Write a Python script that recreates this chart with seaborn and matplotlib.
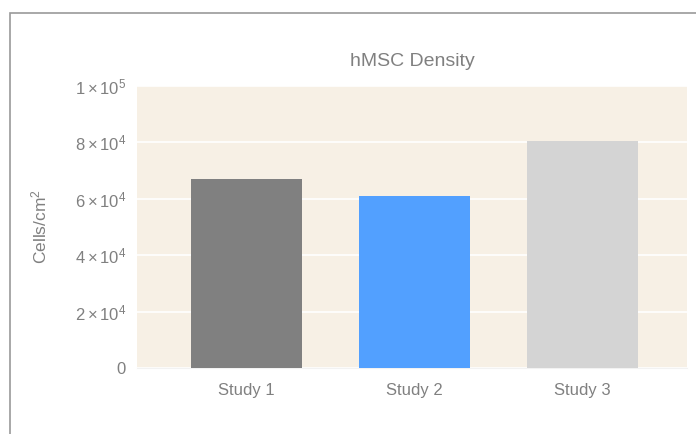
import seaborn as sns
import matplotlib.pyplot as plt
from matplotlib.patches import Rectangle
from matplotlib.ticker import FixedLocator

studies = ["Study 1", "Study 2", "Study 3"]
density = [67000, 61000, 80500]
bar_colors = ["#808080", "#52a0ff", "#d4d4d4"]
y_ticks = [0, 20000, 40000, 60000, 80000, 100000]
y_labels = ["0", r"$2\times10^{4}$", r"$4\times10^{4}$", r"$6\times10^{4}$",
            r"$8\times10^{4}$", r"$1\times10^{5}$"]

sns.set_style("white")
plt.rcParams['font.family'] = ['Liberation Sans', 'DejaVu Sans']
plt.rcParams['mathtext.fontset'] = 'custom'
plt.rcParams['mathtext.rm'] = 'Liberation Sans'
plt.rcParams['mathtext.it'] = 'Liberation Sans'
plt.rcParams['mathtext.default'] = 'regular'

text_col = "#808080"

fig = plt.figure(figsize=(6.96, 4.34), dpi=100)
ax = fig.add_axes([0.197, 0.152, 0.79, 0.65])

# outer frame of the chart (only top/left edges visible)
fig.add_artist(Rectangle((10 / 696, -0.1), 1.2, (434 - 13) / 434 + 0.1,
                         transform=fig.transFigure, fill=False,
                         edgecolor="#9a9a9a", linewidth=1.2))

ax.set_facecolor("#f7f0e5")
sns.barplot(x=studies, y=density, hue=studies, palette=bar_colors,
            width=0.66, saturation=1, legend=False, linewidth=0,
            ax=ax, zorder=3)

ax.set_ylim(0, 100000)
ax.set_xlim(-0.65, 2.62)
ax.yaxis.set_major_locator(FixedLocator(y_ticks))
ax.set_yticklabels(y_labels)
ax.grid(axis="y", color="white", linewidth=1.2, zorder=1)
ax.set_axisbelow(True)
for s in ["top", "right", "left"]:
    ax.spines[s].set_visible(False)
ax.spines["bottom"].set_color("#f2f2f2")
ax.tick_params(axis="both", length=0, labelsize=12, colors=text_col, pad=8)
ax.tick_params(axis="x", pad=11)

ax.set_title("hMSC Density", fontsize=14, color=text_col, pad=14)
ax.set_ylabel(r"Cells/cm$^{2}$", fontsize=12.5, color=text_col, labelpad=18)

fig.savefig("out.png", dpi=100)
